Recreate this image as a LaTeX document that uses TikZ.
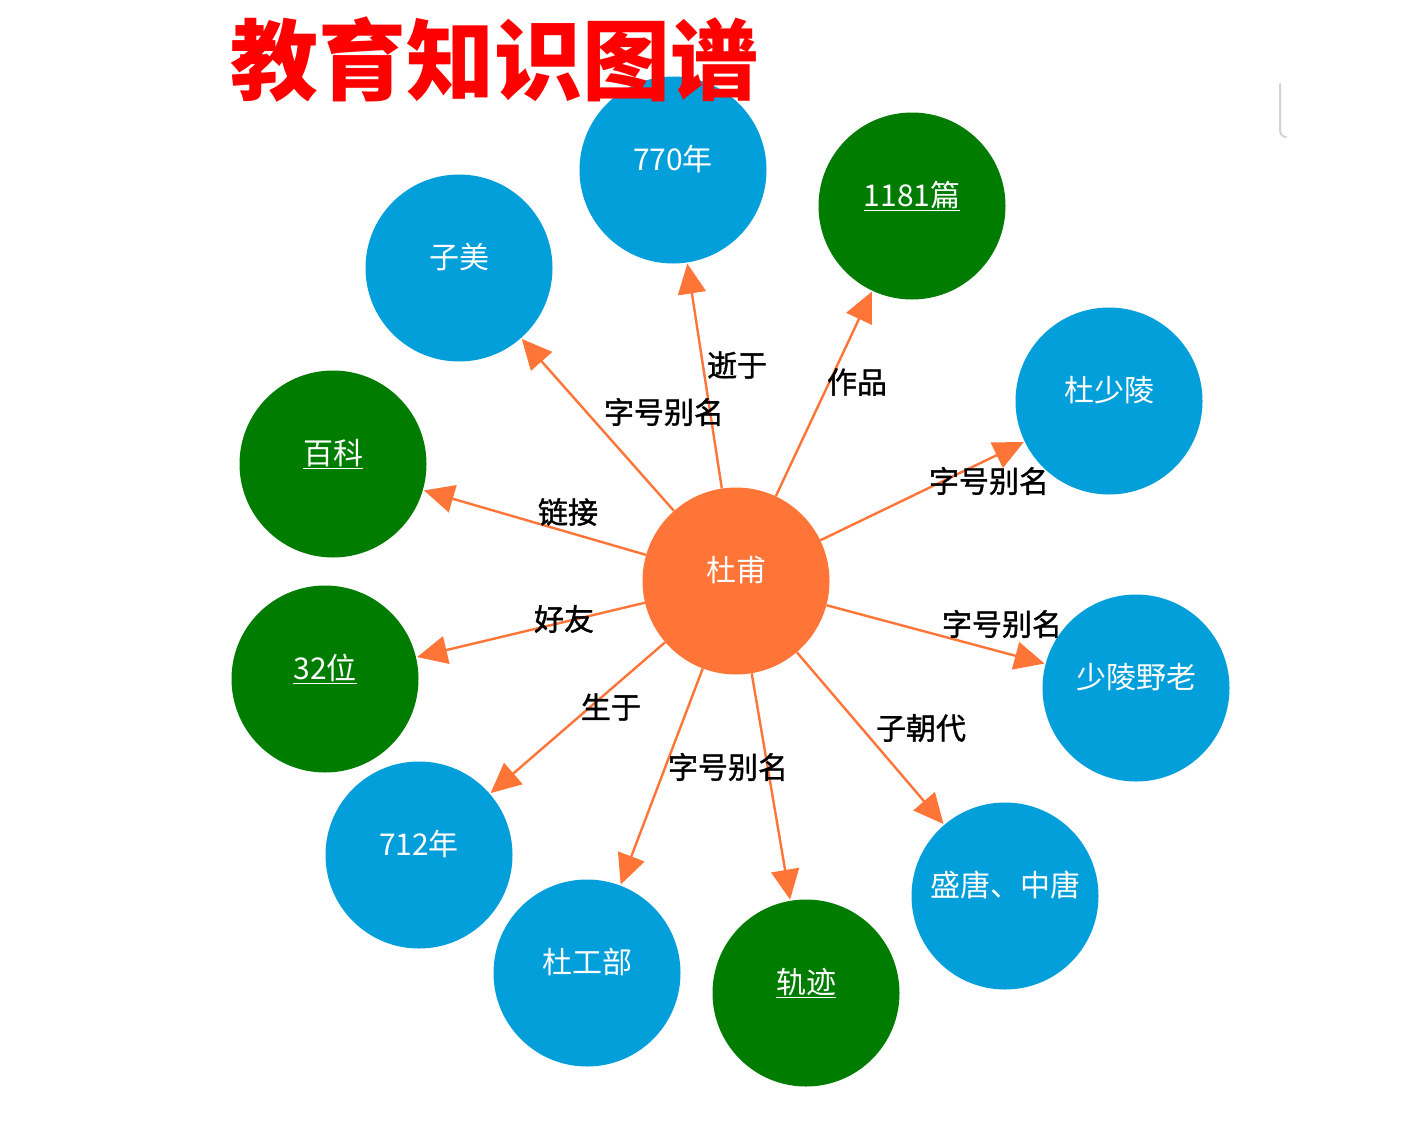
\documentclass[tikz,border=0pt]{standalone}
\usepackage{fontspec}
\setmainfont{Noto Sans CJK SC}
\newfontfamily\cjk{Noto Sans CJK SC}
\newfontfamily\cjkb[FakeBold=1.2]{Noto Sans CJK SC}
\usetikzlibrary{arrows.meta}
\definecolor{kgblue}{RGB}{3,159,219}
\definecolor{kggreen}{RGB}{0,125,0}
\definecolor{kgorange}{RGB}{255,117,56}
\tikzset{
  ent/.style={circle,fill=kgblue,minimum size=187pt,inner sep=0pt,text=white,text depth=24pt,font=\cjk\fontsize{30}{30}\selectfont},
  lnk/.style={ent,fill=kggreen},
  hub/.style={ent,fill=kgorange},
  edge/.style={draw=kgorange,line width=2.4pt,-{Triangle[length=30pt,width=28pt]},shorten >=1pt},
  elab/.style={text=black,inner sep=1pt,font=\cjkb\fontsize{30}{30}\selectfont}
}
\newcommand{\ulab}[1]{\underline{#1}}
\begin{document}
\begin{tikzpicture}[x=1pt,y=-1pt]
\useasboundingbox (0,0) rectangle (1412,1124);
\fill[white] (0,0) rectangle (1412,1124);
% bracket at top right
\draw[gray!35,line width=2pt,line cap=round] (1280,84) -- (1280,130) to[out=-90,in=180] (1286,137);
% nodes
\node[hub] (c) at (736,581) {杜甫};
\node[ent] (n770) at (673,170) {770年};
\node[lnk] (n1181) at (912,206) {\ulab{1181篇}};
\node[ent] (zimei) at (459,268) {子美};
\node[ent] (dsl) at (1109,401) {杜少陵};
\node[lnk] (baike) at (333,464) {\ulab{百科}};
\node[ent] (slyl) at (1136,688) {少陵野老};
\node[lnk] (n32) at (325,679) {\ulab{32位}};
\node[ent] (n712) at (419,855) {712年};
\node[ent] (dgb) at (587,973) {杜工部};
\node[lnk] (guiji) at (806,993) {\ulab{轨迹}};
\node[ent] (tang) at (1005,896) {盛唐、中唐};
% edges
\draw[edge] (c) -- (n770);
\draw[edge] (c) -- (n1181);
\draw[edge] (c) -- (zimei);
\draw[edge] (c) -- (dsl);
\draw[edge] (c) -- (baike);
\draw[edge] (c) -- (slyl);
\draw[edge] (c) -- (n32);
\draw[edge] (c) -- (n712);
\draw[edge] (c) -- (dgb);
\draw[edge] (c) -- (guiji);
\draw[edge] (c) -- (tang);
% edge labels
\node[elab] (l1) at (737,365) {逝于};
\node[elab] (l2) at (857,382) {作品};
\node[elab] (l3) at (664,412) {字号别名};
\node[elab] (l4) at (568,512) {链接};
\node[elab] (l5) at (989,481) {字号别名};
\node[elab] (l6) at (564,619) {好友};
\node[elab] (l7) at (1002,624) {字号别名};
\node[elab] (l8) at (611,707) {生于};
\node[elab] (l9) at (921,728) {子朝代};
\node[elab] (l10) at (728,767) {字号别名};
% title (on top)
\node[text=red,font=\cjk\bfseries\fontsize{88}{88}\selectfont,inner sep=0pt] (title) at (494,60) {教育知识图谱};
\end{tikzpicture}
\end{document}
